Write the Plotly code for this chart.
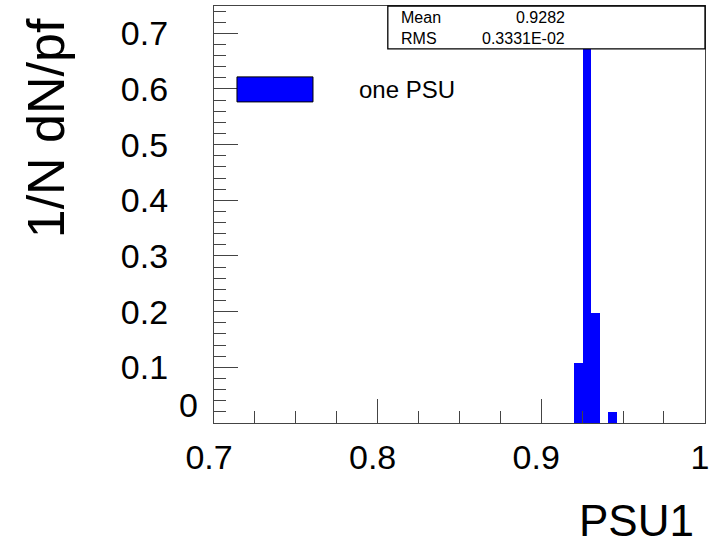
import plotly.graph_objects as go

# Normalised PSU1 distribution (1/N dN), one PSU
bin_centers = [0.9227, 0.9279, 0.9331, 0.9435]
fractions = [0.108, 0.675, 0.197, 0.020]
bin_width = 0.0052

x_tick_vals = [0.7, 0.8, 0.9, 1.0]
x_tick_text = ["0.7", "0.8", "0.9", "1"]
y_tick_vals = [0, 0.1, 0.2, 0.3, 0.4, 0.5, 0.6, 0.7]
y_tick_text = ["0", "0.1", "0.2", "0.3", "0.4", "0.5", "0.6", "0.7"]

stat_names = ["Mean", "RMS"]
stat_values = ["0.9282", "0.3331E-02"]

legend_label = "one PSU"
x_title = "PSU1"
y_title = "1/N dN/pf"

BLUE = "#0000ff"
AXIS = "#444444"
FONT = "Liberation Sans, Arial, sans-serif"
TICK_SIZE = 34

fig = go.Figure()
fig.add_trace(go.Bar(
    x=bin_centers, y=fractions, width=bin_width,
    marker=dict(color=BLUE, line=dict(width=0)),
    name=legend_label, showlegend=False,
))

axis_common = dict(
    showgrid=False, zeroline=False, showline=True, linecolor=AXIS,
    linewidth=1.3, mirror=True, ticks="inside", tickcolor=AXIS,
    tickwidth=1.3, ticklen=24, ticklabeloverflow="allow",
    automargin=False,
    tickfont=dict(family=FONT, size=TICK_SIZE, color="black"),
)

fig.update_xaxes(
    range=[0.7, 1.0001], tickmode="array", tickvals=x_tick_vals,
    ticktext=x_tick_text, ticklabelstandoff=4, ticklabelshift=-5,
    minor=dict(ticks="inside", dtick=0.025, ticklen=12,
               tickcolor=AXIS, tickwidth=1.3),
    **axis_common,
)
# the zero label of the y axis is set apart, just above the corner
fig.update_yaxes(
    range=[0, 0.749], tickmode="array", tickvals=y_tick_vals[1:],
    ticktext=y_tick_text[1:], ticklabelstandoff=38,
    minor=dict(ticks="inside", dtick=0.02, ticklen=12,
               tickcolor=AXIS, tickwidth=1.3),
    **axis_common,
)
fig.add_annotation(xref="paper", yref="paper", x=-0.028, y=0.043,
                   text=y_tick_text[0], showarrow=False, xanchor="right",
                   yanchor="middle",
                   font=dict(family=FONT, size=TICK_SIZE, color="black"))

# Statistics box in the upper-right corner
fig.add_shape(type="rect", xref="paper", yref="paper",
              x0=0.354, x1=1.0, y0=0.897, y1=1.0,
              line=dict(color="black", width=1.3), fillcolor="white",
              layer="above")
stat_y = [0.9736, 0.9225]
for name, val, yy in zip(stat_names, stat_values, stat_y):
    fig.add_annotation(xref="paper", yref="paper", x=0.3768, y=yy,
                       text=name, showarrow=False, xanchor="left",
                       yanchor="middle",
                       font=dict(family=FONT, size=16, color="black"))
    fig.add_annotation(xref="paper", yref="paper", x=0.7189, y=yy,
                       text=val, showarrow=False, xanchor="right",
                       yanchor="middle",
                       font=dict(family=FONT, size=16, color="black"))

# Legend entry: filled swatch and label
fig.add_shape(type="rect", xref="paper", yref="paper",
              x0=0.0468, x1=0.2016, y0=0.770, y1=0.830,
              line=dict(color="black", width=1), fillcolor=BLUE)
fig.add_annotation(xref="paper", yref="paper", x=0.291, y=0.799,
                   text=legend_label, showarrow=False, xanchor="left",
                   yanchor="middle",
                   font=dict(family=FONT, size=24, color="black"))

# Axis titles, aligned to the far end of each axis
fig.add_annotation(xref="paper", yref="paper", x=0.982, y=-0.235,
                   text=x_title, showarrow=False, xanchor="right",
                   yanchor="middle",
                   font=dict(family=FONT, size=44, color="black"))
fig.add_annotation(xref="paper", yref="paper", x=-0.342, y=0.707,
                   text=y_title, showarrow=False, textangle=-90,
                   xanchor="center", yanchor="middle",
                   font=dict(family=FONT, size=52, color="black"))

fig.update_layout(
    width=711, height=548,
    margin=dict(l=214, r=6, t=6, b=125, autoexpand=False),
    plot_bgcolor="white", paper_bgcolor="white",
    bargap=0, showlegend=False,
)

fig.write_html("out.html")
